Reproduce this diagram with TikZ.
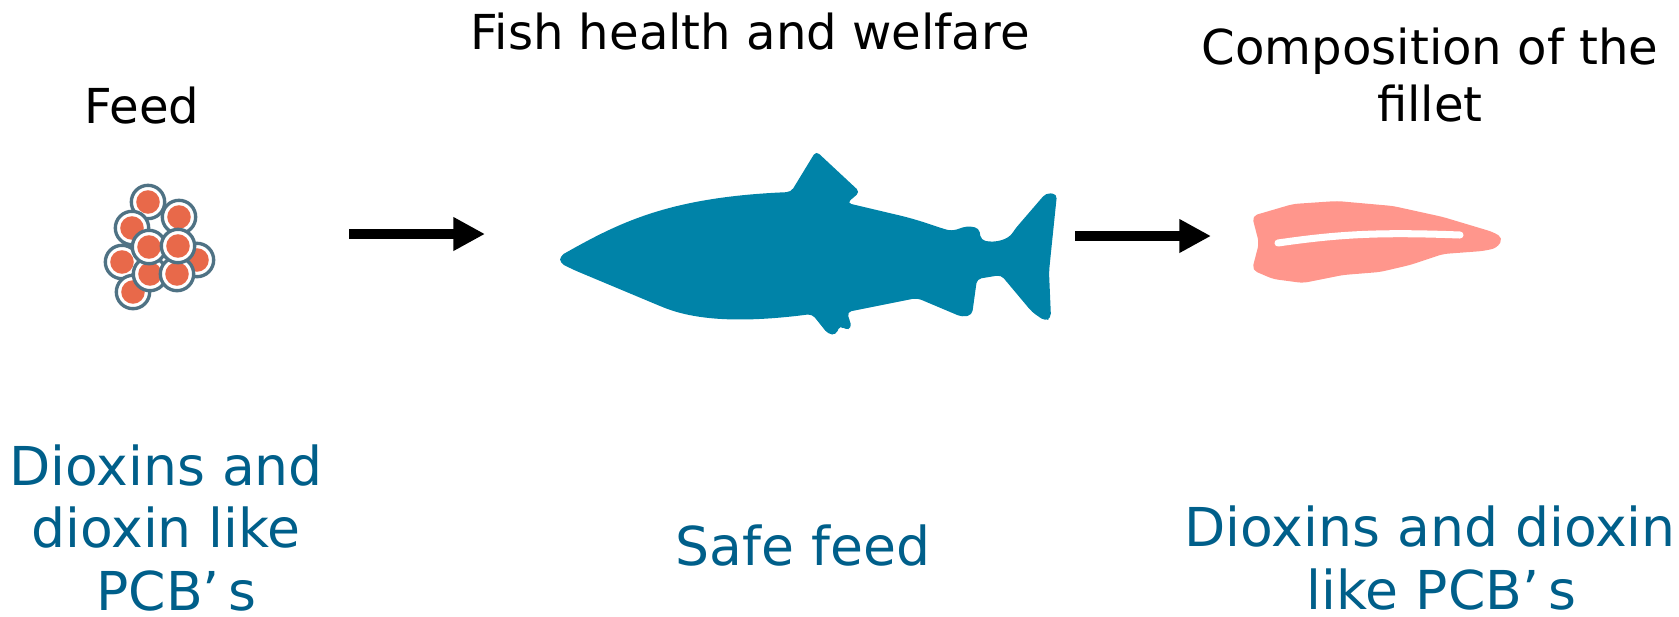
\documentclass[tikz,border=0pt]{standalone}
\usepackage{fontspec}
\setmainfont{DejaVu Sans}
\usetikzlibrary{arrows.meta}
\definecolor{fishblue}{HTML}{0083A8}
\definecolor{textblue}{HTML}{005F8A}
\definecolor{filletpink}{HTML}{FF968C}
\definecolor{eggfill}{HTML}{E8694A}
\definecolor{eggring}{HTML}{4F7284}
\tikzset{
    blacklabel/.style={align=center,inner sep=0pt,font=\fontsize{27.4}{32}\selectfont},
    bluelabel/.style={align=center,inner sep=0pt,text=textblue,font=\fontsize{30.5}{35.5}\selectfont},
    flowarrow/.style={line width=5.7pt,-{Triangle[length=18pt,width=18pt]}},
    egg/.style={circle,draw=eggring,line width=1.9pt,fill=white,minimum size=19pt,inner sep=0pt,
        path picture={\fill[eggfill] (path picture bounding box.center) circle (6.7pt);}}
}
\begin{document}
\begin{tikzpicture}[x=0.02cm,y=-0.02cm]
\useasboundingbox (0,0) rectangle (1679,616);
% feed pellets
\node[egg] (egga) at (197,260) {};
\node[egg] (eggb) at (148,202) {};
\node[egg] (eggc) at (179,217) {};
\node[egg] (eggd) at (132,228) {};
\node[egg] (egge) at (122,262) {};
\node[egg] (eggf) at (133,292) {};
\node[egg] (eggg) at (150,274) {};
\node[egg] (eggh) at (177,274) {};
\node[egg] (eggi) at (149,247) {};
\node[egg] (eggj) at (178,246) {};
% fish
\fill[fishblue,rounded corners=2.5pt] (560,256) .. controls (620,222) and (670,197) .. (791,192)
    -- (816,151) -- (860,192) -- (847,203) -- (902,216)
    .. controls (925,222) and (940,228) .. (952,231) -- (967,226) -- (979,228) -- (981,240)
    .. controls (995,243) and (1008,240) .. (1015,229) -- (1046,193) -- (1057,194) -- (1051,252) -- (1049,272)
    -- (1051,318) -- (1045,321) -- (1032,312) -- (1001,275) -- (977,279) -- (972,315) -- (962,317)
    -- (917,298) -- (847,312) -- (852,328) -- (845,330) -- (840,325) -- (836,335) -- (828,334)
    -- (812,314) .. controls (750,322) and (700,322) .. (660,306) -- (574,270) -- (560,263) -- cycle;
% fillet
\fill[filletpink,rounded corners=3pt] (1252,216) -- (1293,204) -- (1337,201) -- (1393,206) -- (1443,217)
    -- (1493,232) -- (1503,238) -- (1497,248) -- (1483,251) -- (1443,254) -- (1410,265) -- (1380,272)
    -- (1343,275) -- (1303,283) -- (1273,279) -- (1252,270) -- (1259,243) -- cycle;
\draw[white,line width=4pt,line cap=round] (1278,243) .. controls (1340,234) and (1380,232) .. (1460,235);
% arrows
\coordinate (feedend) at (349,234);
\coordinate (fishstart) at (485,234);
\coordinate (fishend) at (1075,236);
\coordinate (filletstart) at (1211,236);
\draw[flowarrow] (feedend) -- (fishstart);
\draw[flowarrow] (fishend) -- (filletstart);
% labels
\node[blacklabel] (feed) at (142,106) {Feed};
\node[blacklabel] (health) at (750,32) {Fish health and welfare};
\node[blacklabel] (comp) at (1430,75) {Composition of the\\fillet};
\node[bluelabel] (dioxleft) at (166,528) {Dioxins and\\dioxin like\\\hspace*{12pt}PCB’\,s};
\node[bluelabel] (safe) at (803,546) {Safe feed};
\node[bluelabel] (dioxright) at (1430,558) {Dioxins and dioxin\\\hspace*{13pt}like PCB’\,s};
\end{tikzpicture}
\end{document}
